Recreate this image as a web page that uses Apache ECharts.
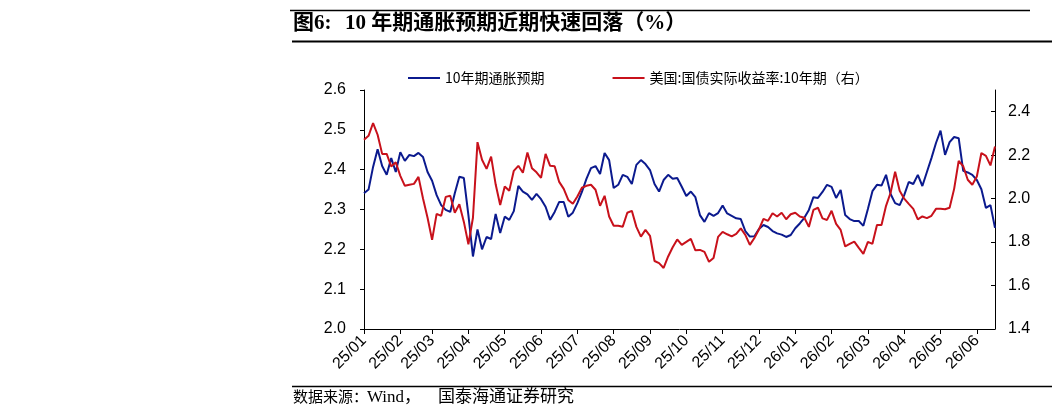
<!DOCTYPE html>
<html>
<head>
<meta charset="utf-8">
<script src="https://cdn.jsdelivr.net/npm/echarts@6/dist/echarts.min.js"></script>
<style>
  html, body { margin: 0; background: #fff; }
  #container { width: 1058px; height: 411px; }
</style>
</head>
<body>
<div id="container"></div>
<script>
var myChart = echarts.init(document.getElementById('container'));

// months shown on the x axis, and the sampled days in each month
var months = ['25/01','25/02','25/03','25/04','25/05','25/06','25/07','25/08','25/09',
              '25/10','25/11','25/12','26/01','26/02','26/03','26/04','26/05','26/06'];
var sampleDays = {
  '25/02': ['01','05','09','13','17','21','25'],
  '26/02': ['01','04','08','11','15','18','22','25'],
  '26/06': ['01','04','08','11','15']
};
var defaultDays = ['01','05','09','13','17','21','25','29'];

var dates = [];
months.forEach(function (m) {
  (sampleDays[m] || defaultDays).forEach(function (d) { dates.push(m + '/' + d); });
});

// 10年期通胀预期 (left axis)
var breakeven = [
  2.341, 2.35, 2.407, 2.451, 2.409, 2.387, 2.429, 2.394,
  2.444, 2.422, 2.437, 2.434, 2.442, 2.432, 2.394,
  2.372, 2.336, 2.311, 2.299, 2.294, 2.341, 2.382, 2.379,
  2.286, 2.182, 2.25, 2.20, 2.231, 2.226, 2.289, 2.241,
  2.282, 2.274, 2.296, 2.359, 2.345, 2.338, 2.324, 2.339,
  2.326, 2.307, 2.274, 2.294, 2.319, 2.319, 2.282, 2.292,
  2.316, 2.344, 2.377, 2.404, 2.409, 2.389, 2.442, 2.424,
  2.354, 2.362, 2.387, 2.382, 2.364, 2.412, 2.424, 2.414,
  2.399, 2.364, 2.345, 2.374, 2.387, 2.377, 2.379, 2.357,
  2.334, 2.345, 2.331, 2.286, 2.269, 2.291, 2.284, 2.291,
  2.310, 2.290, 2.284, 2.278, 2.276, 2.246, 2.232, 2.233,
  2.251, 2.261, 2.256, 2.246, 2.240, 2.237, 2.231, 2.236,
  2.253, 2.265, 2.279, 2.299, 2.331, 2.329, 2.344, 2.362,
  2.357, 2.329, 2.349, 2.286, 2.276, 2.271, 2.271, 2.259,
  2.301, 2.346, 2.362, 2.360, 2.387, 2.339, 2.316, 2.311,
  2.336, 2.369, 2.364, 2.387, 2.359, 2.394, 2.429, 2.467,
  2.498, 2.437, 2.469, 2.482, 2.479, 2.397, 2.393, 2.387,
  2.374, 2.351, 2.304, 2.311, 2.254
];

// 美国:国债实际收益率:10年期 (right axis)
var realYield = [
  2.271, 2.289, 2.348, 2.294, 2.206, 2.206, 2.148, 2.167,
  2.105, 2.059, 2.064, 2.068, 2.100, 2.001, 1.912,
  1.81, 1.930, 1.921, 2.008, 2.013, 1.935, 1.974, 1.893,
  1.79, 1.912, 2.26, 2.179, 2.137, 2.193, 2.066, 1.971,
  2.056, 2.036, 2.128, 2.151, 2.119, 2.212, 2.140, 2.121,
  2.096, 2.206, 2.151, 2.149, 2.077, 2.045, 1.994, 1.976,
  2.010, 2.050, 2.059, 2.064, 2.041, 1.967, 2.013, 1.918,
  1.875, 1.875, 1.871, 1.935, 1.944, 1.870, 1.825, 1.856,
  1.829, 1.713, 1.703, 1.681, 1.734, 1.776, 1.812, 1.787,
  1.801, 1.815, 1.762, 1.764, 1.755, 1.709, 1.727, 1.824,
  1.847, 1.836, 1.826, 1.838, 1.863, 1.833, 1.787, 1.819,
  1.858, 1.907, 1.898, 1.933, 1.918, 1.935, 1.905, 1.928,
  1.935, 1.918, 1.912, 1.870, 1.948, 1.958, 1.909, 1.902,
  1.944, 1.884, 1.856, 1.780, 1.792, 1.802, 1.773, 1.746,
  1.801, 1.792, 1.879, 1.879, 1.967, 2.027, 2.124, 2.036,
  2.000, 1.976, 1.953, 1.905, 1.918, 1.910, 1.921, 1.953,
  1.953, 1.951, 1.958, 2.045, 2.174, 2.149, 2.087, 2.064,
  2.102, 2.210, 2.197, 2.153, 2.24
];

var seriesNames = ['10年期通胀预期', '美国:国债实际收益率:10年期（右）'];

function isMonthStart(index, value) {
  return value.slice(-2) === '01';
}

var axisFont = '"Liberation Sans", Arial, sans-serif';
var serifFont = '"Liberation Serif", "Noto Sans CJK SC", serif';

var option = {
  backgroundColor: '#fff',
  animation: false,
  grid: { left: 364, right: 63, top: 90, bottom: 82 },
  legend: {
    left: 403,
    top: 66,
    icon: 'rect',
    itemWidth: 32,
    itemHeight: 2,
    itemGap: 68,
    textStyle: { color: '#000', fontSize: 14, fontFamily: '"Noto Sans CJK SC", sans-serif' },
    data: seriesNames
  },
  xAxis: {
    type: 'category',
    boundaryGap: false,
    data: dates,
    axisLine: { lineStyle: { color: '#000', width: 1 } },
    axisTick: { interval: isMonthStart, length: 5, lineStyle: { color: '#000' } },
    axisLabel: {
      interval: isMonthStart,
      rotate: 45,
      margin: 9,
      color: '#000',
      fontSize: 16,
      fontFamily: axisFont,
      formatter: function (v) { return v.slice(0, 5); }
    },
    splitLine: { show: false }
  },
  yAxis: [
    {
      type: 'value',
      min: 2.0,
      max: 2.6,
      interval: 0.1,
      axisLine: { show: true, lineStyle: { color: '#000' } },
      axisTick: { show: true, length: 4, lineStyle: { color: '#000' } },
      axisLabel: {
        color: '#000', fontSize: 16, fontFamily: axisFont, margin: 18,
        formatter: function (v) { return v.toFixed(1); }
      },
      splitLine: { show: false }
    },
    {
      type: 'value',
      min: 1.4,
      max: 2.5,
      interval: 0.2,
      position: 'right',
      axisLine: { show: true, lineStyle: { color: '#000' } },
      axisTick: { show: true, inside: true, length: 4, lineStyle: { color: '#000' } },
      axisLabel: {
        color: '#000', fontSize: 16, fontFamily: axisFont, margin: 13,
        showMaxLabel: false,
        formatter: function (v) { return v.toFixed(1); }
      },
      splitLine: { show: false }
    }
  ],
  series: [
    {
      name: seriesNames[0],
      type: 'line',
      yAxisIndex: 0,
      data: breakeven,
      showSymbol: false,
      color: '#0b1a8e',
      lineStyle: { color: '#0b1a8e', width: 2 }
    },
    {
      name: seriesNames[1],
      type: 'line',
      yAxisIndex: 1,
      data: realYield,
      showSymbol: false,
      color: '#c8111b',
      lineStyle: { color: '#c8111b', width: 2 }
    }
  ],
  graphic: [
    { type: 'line', shape: { x1: 290, y1: 10.5, x2: 1030, y2: 10.5 }, style: { stroke: '#000', lineWidth: 1.5 } },
    { type: 'text', style: { text: '图6:', x: 293, y: 24, font: 'bold 21px ' + serifFont, fill: '#000', textVerticalAlign: 'middle' } },
    { type: 'text', style: { text: '10 年期通胀预期近期快速回落（%）', x: 345, y: 24, font: 'bold 21px ' + serifFont, fill: '#000', textVerticalAlign: 'middle' } },
    { type: 'line', shape: { x1: 292, y1: 41.5, x2: 1052, y2: 41.5 }, style: { stroke: '#000', lineWidth: 2 } },
    { type: 'line', shape: { x1: 292, y1: 386.5, x2: 1052, y2: 386.5 }, style: { stroke: '#000', lineWidth: 1.5 } },
    { type: 'text', style: { text: '数据来源：', x: 293, y: 398, font: '15px ' + serifFont, fill: '#000', textVerticalAlign: 'middle' } },
    { type: 'text', style: { text: 'Wind，', x: 367, y: 398, font: '17px ' + serifFont, fill: '#000', textVerticalAlign: 'middle' } },
    { type: 'text', style: { text: '国泰海通证券研究', x: 438, y: 398, font: '17px ' + serifFont, fill: '#000', textVerticalAlign: 'middle' } }
  ]
};

myChart.setOption(option);
</script>
</body>
</html>
